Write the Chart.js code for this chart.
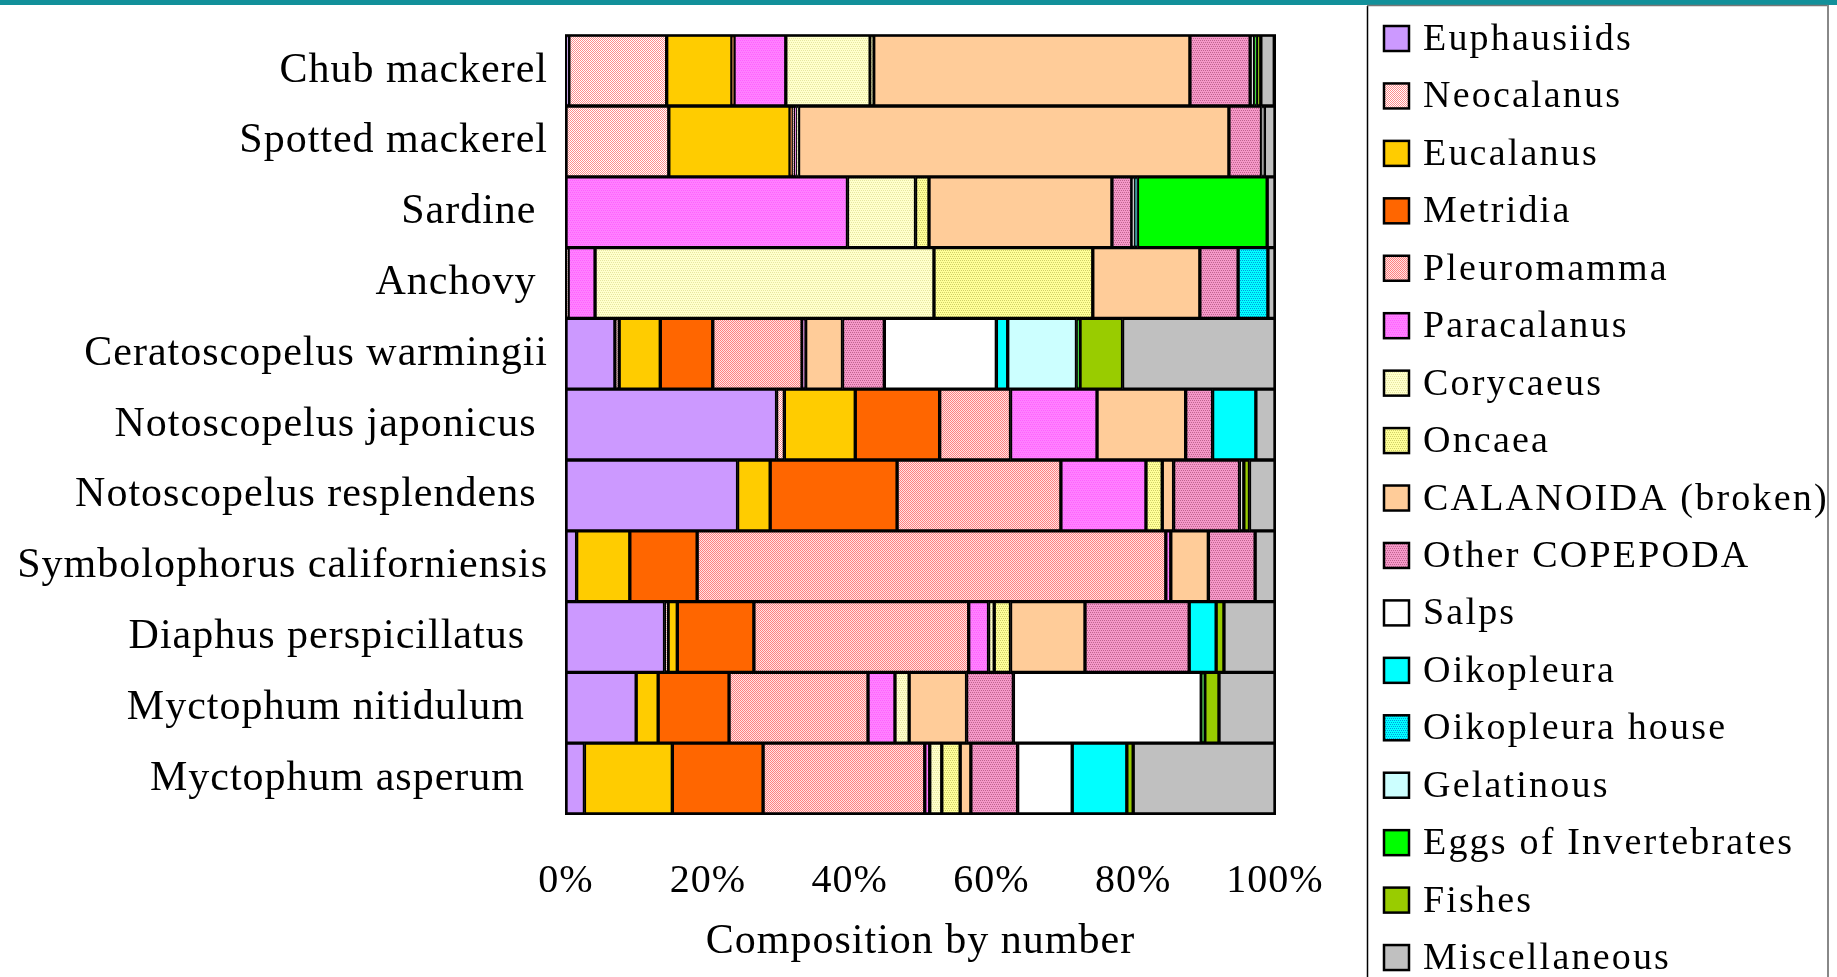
<!DOCTYPE html>
<html>
<head>
<meta charset="utf-8">
<script src="https://cdn.jsdelivr.net/npm/chart.js@4/dist/chart.umd.min.js"></script>
<style>
  html, body { margin: 0; padding: 0; background: #fff; }
  #chart { display: block; }
</style>
</head>
<body>
<canvas id="chart" width="1837" height="977"></canvas>
<script>
// categories, top to bottom (trailing blanks as in the original labels)
const species = [
  "Chub mackerel", "Spotted mackerel", "Sardine ", "Anchovy ",
  "Ceratoscopelus warmingii", "Notoscopelus japonicus ", "Notoscopelus resplendens ",
  "Symbolophorus californiensis", "Diaphus perspicillatus  ",
  "Myctophum nitidulum  ", "Myctophum asperum  "
];

// composition by number (%), one value per species
const euphausiids   = [0.4, 0,    0,    0,    6.9,  29.7, 24.2, 1.5,  13.9, 9.9,  2.6];
const neocalanus    = [13.8, 14.5, 0,   0.3,  0.6,  1.1,  0,    0,    0.5,  0,    0];
const eucalanus     = [9.2, 17.1, 0,    0,    5.8,  10.0, 4.6,  7.5,  1.3,  3.1,  12.4];
const metridia      = [0.3, 0.3,  0,    0,    7.4,  11.9, 17.9, 9.5,  10.8, 10.0, 12.8];
const pleuromamma   = [0,   0.3,  0,    0,    12.6, 10.0, 23.1, 66.1, 30.3, 19.6, 22.8];
const paracalanus   = [7.3, 0.3,  39.7, 3.8,  0.5,  12.2, 12.0, 0.7,  2.8,  3.8,  0.7];
const corycaeus     = [11.9, 0.3, 9.6,  47.8, 0,    0,    0,    0,    0.8,  2.0,  1.7];
const oncaea        = [0.5, 0,    1.9,  22.4, 0,    0,    2.3,  0,    2.3,  0,    2.6];
const calanoida     = [44.6, 60.7, 25.8, 15.1, 5.2, 12.5, 1.6,  5.3,  10.5, 8.1,  1.5];
const otherCopepoda = [8.5, 4.6,  2.8,  5.4,  5.9,  3.8,  9.3,  6.6,  14.7, 6.6,  6.6];
const salps         = [0.6, 0.4,  0.4,  0,    15.8, 0,    0.6,  0,    0,    26.5, 7.7];
const oikopleura    = [0,   0,    0.4,  0,    1.6,  6.1,  0,    0,    3.8,  0,    7.7];
const oikoHouse     = [0,   0,    0,    4.2,  0,    0,    0,    0,    0,    0,    0];
const gelatinous    = [0,   0,    0,    0,    9.7,  0,    0,    0,    0,    0,    0];
const eggs          = [0.3, 0,    18.3, 0,    0.5,  0,    0,    0,    0,    0.5,  0];
const fishes        = [0.6, 0,    0,    0,    6.0,  0,    0.8,  0,    1.1,  2.0,  0.9];
const misc          = [1.9, 1.5,  1.1,  1.0,  21.5, 2.7,  3.6,  2.8,  7.2,  7.9,  20.0];

const xTickLabels = ["0%", "20%", "40%", "60%", "80%", "100%"];

// small dotted fills like the original's hatching
function dots(bg, fg, cells) {
  const c = document.createElement("canvas");
  c.width = 4; c.height = 4;
  const g = c.getContext("2d");
  g.fillStyle = bg; g.fillRect(0, 0, 4, 4);
  g.fillStyle = fg;
  cells.forEach(([x, y]) => g.fillRect(x, y, 1, 1));
  return g.createPattern(c, "repeat");
}
const checker = [[0,0],[2,0],[1,1],[3,1],[0,2],[2,2],[1,3],[3,3]];
const rowsDots = [[0,0],[2,0],[1,2],[3,2]];

const series = [
  ["Euphausiids", euphausiids, "#CC99FF"],
  ["Neocalanus", neocalanus, dots("#FFFFFF", "#FF8C8C", checker)],
  ["Eucalanus", eucalanus, "#FFCC00"],
  ["Metridia", metridia, "#FF6600"],
  ["Pleuromamma", pleuromamma, dots("#FFE4E4", "#FF8080", checker)],
  ["Paracalanus", paracalanus, dots("#FF80FF", "#FF60FF", rowsDots)],
  ["Corycaeus", corycaeus, dots("#FFFFCC", "#E6E6A0", rowsDots)],
  ["Oncaea", oncaea, dots("#FFFF99", "#D0D068", rowsDots)],
  ["CALANOIDA (broken)", calanoida, "#FFCC99"],
  ["Other COPEPODA", otherCopepoda, dots("#F598C8", "#C0648F", rowsDots)],
  ["Salps", salps, "#FFFFFF"],
  ["Oikopleura", oikopleura, "#00FFFF"],
  ["Oikopleura house", oikoHouse, dots("#00FFFF", "#0099DD", rowsDots)],
  ["Gelatinous", gelatinous, "#CCFFFF"],
  ["Eggs of Invertebrates", eggs, "#00FF00"],
  ["Fishes", fishes, "#99CC00"],
  ["Miscellaneous", misc, "#C0C0C0"]
];

const FONT = "'Liberation Serif', 'Times New Roman', serif";

const frame = {
  id: "frame",
  beforeUpdate(chart) { chart.ctx.letterSpacing = "1px"; },
  beforeDraw(chart) { chart.ctx.letterSpacing = "1px"; },
  afterDatasetsDraw(chart) {
    const {ctx, chartArea: a} = chart;
    ctx.save();
    ctx.strokeStyle = "#000";
    ctx.lineWidth = 2;
    ctx.strokeRect(a.left, a.top, a.right - a.left, a.bottom - a.top);
    ctx.restore();
  },
  afterDraw(chart) {
    const ctx = chart.ctx;
    ctx.save();
    // teal strip along the top
    ctx.fillStyle = "#12909A";
    ctx.fillRect(0, 0, chart.width, 5);
    // legend box
    ctx.strokeStyle = "#000";
    ctx.lineWidth = 1.5;
    ctx.beginPath();
    ctx.moveTo(1367.5, 6); ctx.lineTo(1367.5, chart.height);
    ctx.stroke();
    ctx.strokeStyle = "#777";
    ctx.beginPath();
    ctx.moveTo(1367, 5.5); ctx.lineTo(1828, 5.5);
    ctx.stroke();
    ctx.lineWidth = 2;
    ctx.strokeStyle = "#888";
    ctx.beginPath();
    ctx.moveTo(1828, 5); ctx.lineTo(1828, chart.height);
    ctx.stroke();

    ctx.font = "38px " + FONT;
    ctx.letterSpacing = "2.2px";
    ctx.textBaseline = "middle";
    chart.data.datasets.forEach((ds, i) => {
      const cy = 39 + i * 57.44;
      ctx.fillStyle = ds.backgroundColor;
      ctx.fillRect(1384, cy - 13, 25, 25);
      ctx.lineWidth = 2.5;
      ctx.strokeStyle = "#000";
      ctx.strokeRect(1384, cy - 13, 25, 25);
      ctx.fillStyle = "#000";
      ctx.fillText(ds.label, 1423, cy + 1);
    });
    ctx.restore();
  }
};

new Chart(document.getElementById("chart"), {
  type: "bar",
  data: {
    labels: species,
    datasets: series.map(([label, data, color]) => ({
      label, data,
      backgroundColor: color,
      borderColor: "#000",
      borderWidth: 2,
      borderSkipped: false,
      barPercentage: 1,
      categoryPercentage: 1
    }))
  },
  options: {
    indexAxis: "y",
    responsive: false,
    animation: false,
    layout: { padding: { top: 19, right: 562, left: 0, bottom: 0 } },
    plugins: { legend: { display: false }, tooltip: { enabled: false } },
    scales: {
      x: {
        stacked: true, min: 0, max: 100,
        grid: { display: false },
        border: { display: false },
        ticks: {
          stepSize: 20,
          callback: (v, i) => xTickLabels[i],
          color: "#000",
          padding: 35,
          maxRotation: 0,
          font: { family: FONT, size: 40 }
        },
        title: {
          display: true,
          text: "Composition by number",
          color: "#000",
          padding: { top: 0, bottom: 10 },
          font: { family: FONT, size: 42 }
        },
        afterFit: s => { s.height = 977 - 814; }
      },
      y: {
        stacked: true,
        grid: { display: false },
        border: { display: false },
        ticks: {
          color: "#000",
          padding: 10,
          font: { family: FONT, size: 42 }
        },
        afterFit: s => { s.width = 566; }
      }
    }
  },
  plugins: [frame]
});
</script>
</body>
</html>
